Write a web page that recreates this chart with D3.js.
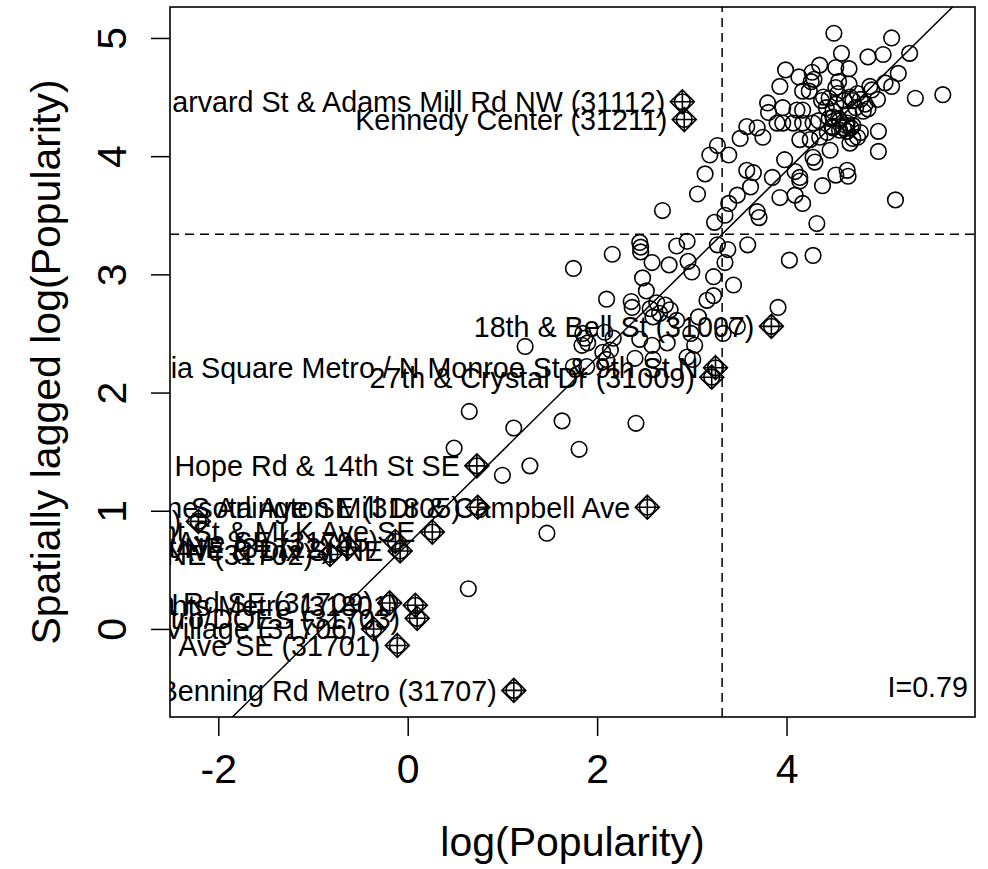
<!DOCTYPE html>
<html>
<head>
<meta charset="utf-8">
<script src="https://cdn.jsdelivr.net/npm/d3@7"></script>
<style>
  body { margin: 0; background: #fff; }
  text { font-family: "Liberation Sans", Arial, Helvetica, sans-serif; fill: #000; }
</style>
</head>
<body>
<div id="chartDiv"></div>
<script>
// log(Popularity) of each station and its spatially lagged value
var popX = [0.64,1.47,1.00,1.29,0.49,1.81,0.65,1.12,1.63,2.41,
  1.24,1.75,1.89,1.85,1.87,1.90,1.84,2.08,2.17,2.14,2.06,2.10,2.45,2.58,2.74,3.03,2.40,2.59,2.95,3.01,
  2.10,2.36,2.37,2.56,2.63,2.72,2.77,2.66,2.59,2.48,2.52,3.16,3.23,3.07,2.99,3.48,3.33,2.84,3.91,
  1.75,2.16,2.45,2.46,2.46,2.58,2.76,2.84,2.95,2.96,3.00,3.23,3.27,3.24,3.38,3.35,3.44,3.59,4.03,4.28,
  2.69,3.06,3.14,3.19,3.27,3.39,3.51,3.58,3.69,3.75,3.58,3.65,3.62,3.48,3.39,3.35,3.69,3.71,3.85,3.98,
  4.09,4.14,4.14,3.93,4.09,4.17,4.32,4.38,4.52,4.64,4.65,4.97,4.97,5.15,4.28,4.30,4.25,4.14,4.35,4.43,4.70,4.78,
  3.80,3.81,3.96,4.11,4.17,3.90,3.96,4.07,4.17,4.28,3.93,3.99,4.13,4.27,4.35,4.29,4.52,4.66,4.17,4.24,4.26,
  4.50,5.11,4.58,4.86,5.02,5.30,5.18,5.04,5.11,5.36,5.65,4.96,4.88,4.90,4.75,4.67,4.86,4.83,
  4.37,4.45,4.42,4.49,4.52,4.45,4.55,4.52,4.55,4.66,4.61,4.70,4.73,4.63,4.70,4.81,4.75,4.49,4.60,4.68,
  4.34,4.66,4.39,4.54,4.67,4.49,4.56,4.64,4.48,4.56,4.64,4.78,4.46];
var lagY = [0.34,0.81,1.30,1.38,1.53,1.52,1.84,1.70,1.76,1.74,
  2.39,2.22,2.22,2.50,2.46,2.42,2.40,2.51,2.46,2.36,2.34,2.28,2.45,2.40,2.42,2.40,2.29,2.28,2.30,2.28,
  2.79,2.77,2.72,2.71,2.76,2.74,2.70,2.67,2.64,2.97,2.86,2.78,2.82,2.64,2.50,2.56,2.50,2.61,2.72,
  3.05,3.17,3.27,3.23,3.19,3.10,3.08,3.24,3.28,3.11,3.02,2.98,3.25,3.44,3.21,3.10,2.91,3.25,3.12,3.16,
  3.54,3.68,3.85,4.01,4.09,4.01,4.15,4.25,4.24,4.16,3.88,3.86,3.74,3.67,3.60,3.50,3.53,3.48,3.82,3.97,
  3.87,3.82,3.79,3.65,3.67,3.60,3.43,3.75,3.84,3.88,3.83,4.21,4.04,3.63,3.99,3.95,4.14,4.14,4.16,4.20,4.15,4.20,
  4.45,4.37,4.41,4.39,4.39,4.28,4.28,4.28,4.28,4.28,4.59,4.73,4.67,4.71,4.77,4.65,4.75,4.74,4.55,4.55,4.63,
  5.04,5.00,4.87,4.84,4.86,4.87,4.70,4.62,4.59,4.49,4.52,4.48,4.59,4.56,4.16,4.11,4.40,4.44,
  4.47,4.49,4.41,4.38,4.44,4.32,4.32,4.58,4.63,4.61,4.47,4.47,4.41,4.26,4.26,4.38,4.53,4.24,4.24,4.24,
  4.30,4.36,4.50,4.53,4.50,4.33,4.30,4.28,4.25,4.22,4.21,4.48,4.05];

// influential stations (marked and labelled)
var inflLabel = ["Harvard St & Adams Mill Rd NW (31112)", "Kennedy Center (31211)",
  "18th & Bell St (31007)", "Virginia Square Metro / N Monroe St & 9th St N",
  "27th & Crystal Dr (31009)", "Good Hope Rd & 14th St SE", "Minnesota Ave SE (31805)",
  "S Arlington Mill Dr & Campbell Ave", "Southern Ave & Wheeler Rd SE (31710)",
  "Pleasant St & MLK Ave SE", "Nannie Helen Burroughs Ave & 49th St NE (31702)",
  "Division Ave & Foote St NE (31712)", "Randle Circle & Minnesota Ave SE (31705)",
  "Minnesota Ave & Dix St NE", "Alabama Ave & Stanton Rd SE (31709)",
  "Congress Heights Metro (31801)", "Minnesota Ave Metro/DOES (31703)",
  "Fort Dupont Village (31706)", "Anacostia Rd & Ridge Rd Ave SE (31701)",
  "Benning Rd Metro (31707)"];
var inflX = [2.90,2.92,3.84,3.25,3.21,0.73,0.74,2.53,-2.21,0.26,-0.82,-0.63,-0.13,-0.08,-0.19,0.08,0.10,-0.36,-0.11,1.12];
var inflY = [4.46,4.31,2.56,2.21,2.13,1.38,1.03,1.03,0.91,0.82,0.63,0.69,0.74,0.66,0.22,0.20,0.09,0.00,-0.14,-0.52];

var xTicks = [-2, 0, 2, 4];
var yTicks = [0, 1, 2, 3, 4, 5];
var xLimits = [-2.51, 5.99];
var yLimits = [-0.745, 5.262];
var meanX = 3.32, meanY = 3.34;
var moranI = 0.79;

var width = 988, height = 869;
var margin = {left: 170, right: 13, top: 7, bottom: 152};

var svg = d3.select("#chartDiv").append("svg")
    .attr("width", width)
    .attr("height", height);

var x = d3.scaleLinear().domain(xLimits).range([margin.left, width - margin.right]);
var y = d3.scaleLinear().domain(yLimits).range([height - margin.bottom, margin.top]);

// clip to the plot region like R does
svg.append("clipPath").attr("id", "plotClip")
  .append("rect")
    .attr("x", x.range()[0]).attr("y", y.range()[1])
    .attr("width", x.range()[1] - x.range()[0])
    .attr("height", y.range()[0] - y.range()[1]);

var plot = svg.append("g").attr("clip-path", "url(#plotClip)");

// mean lines
plot.append("line")
    .attr("x1", x(meanX)).attr("x2", x(meanX))
    .attr("y1", y.range()[0]).attr("y2", y.range()[1])
    .attr("stroke", "#000").attr("stroke-width", 1.5)
    .attr("stroke-dasharray", "9,6");
plot.append("line")
    .attr("x1", x.range()[0]).attr("x2", x.range()[1])
    .attr("y1", y(meanY)).attr("y2", y(meanY))
    .attr("stroke", "#000").attr("stroke-width", 1.5)
    .attr("stroke-dasharray", "9,6");

// regression line (slope = Moran's I)
var b0 = meanY - moranI * meanX;
plot.append("line")
    .attr("x1", x(xLimits[0])).attr("y1", y(b0 + moranI * xLimits[0]))
    .attr("x2", x(xLimits[1])).attr("y2", y(b0 + moranI * xLimits[1]))
    .attr("stroke", "#000").attr("stroke-width", 1.5);

// all points as open circles
var allX = popX.concat(inflX), allY = lagY.concat(inflY);
plot.append("g").selectAll("circle")
    .data(d3.range(allX.length))
    .enter().append("circle")
    .attr("cx", function (i) { return x(allX[i]); })
    .attr("cy", function (i) { return y(allY[i]); })
    .attr("r", 7.8)
    .attr("fill", "none")
    .attr("stroke", "#000")
    .attr("stroke-width", 1.6);

// influential points: diamond with plus
var s = 12;
plot.append("g").selectAll("path")
    .data(d3.range(inflX.length))
    .enter().append("path")
    .attr("d", function (i) {
        var cx = x(inflX[i]), cy = y(inflY[i]);
        return "M" + cx + "," + (cy - s) + "L" + (cx + s) + "," + cy + "L" + cx + "," + (cy + s) +
            "L" + (cx - s) + "," + cy + "Z" +
            "M" + (cx - s) + "," + cy + "H" + (cx + s) + "M" + cx + "," + (cy - s) + "V" + (cy + s);
    })
    .attr("fill", "none")
    .attr("stroke", "#000")
    .attr("stroke-width", 1.6);

plot.append("g").selectAll("text")
    .data(d3.range(inflX.length))
    .enter().append("text")
    .attr("x", function (i) { return x(inflX[i]) - 17; })
    .attr("y", function (i) { return y(inflY[i]); })
    .attr("dy", "0.36em")
    .attr("text-anchor", "end")
    .style("font-size", "28.7px")
    .text(function (i) { return inflLabel[i]; });

// axes
var xAxis = svg.append("g")
    .attr("transform", "translate(0," + y.range()[0] + ")")
    .call(d3.axisBottom(x).tickValues(xTicks).tickSize(19).tickSizeOuter(0).tickFormat(d3.format("d")));
xAxis.select(".domain").remove();
xAxis.selectAll("line").attr("stroke-width", 1.5);
xAxis.selectAll("text")
    .attr("y", 66).attr("dy", null)
    .style("font-size", "41px")
    .style("font-family", "Liberation Sans, Arial, sans-serif")
    .text(function (d) { return d < 0 ? "-" + Math.abs(d) : d; });

var yAxis = svg.append("g")
    .attr("transform", "translate(" + x.range()[0] + ",0)")
    .call(d3.axisLeft(y).tickValues(yTicks).tickSize(19).tickSizeOuter(0).tickFormat(d3.format("d")));
yAxis.select(".domain").remove();
yAxis.selectAll("line").attr("stroke-width", 1.5);
yAxis.selectAll("text")
    .attr("x", 0).attr("dy", null).attr("y", -44)
    .attr("transform", "rotate(-90)")
    .style("text-anchor", "middle")
    .style("font-size", "41px")
    .style("font-family", "Liberation Sans, Arial, sans-serif");

// box
svg.append("rect")
    .attr("x", x.range()[0]).attr("y", y.range()[1])
    .attr("width", x.range()[1] - x.range()[0])
    .attr("height", y.range()[0] - y.range()[1])
    .attr("fill", "none").attr("stroke", "#000").attr("stroke-width", 1.6);

// axis titles
svg.append("text")
    .attr("x", (x.range()[0] + x.range()[1]) / 2)
    .attr("y", 856)
    .attr("text-anchor", "middle")
    .style("font-size", "41px")
    .text("log(Popularity)");

svg.append("text")
    .attr("transform", "translate(60," + (y.range()[0] + y.range()[1]) / 2 + ") rotate(-90)")
    .attr("text-anchor", "middle")
    .style("font-size", "41px")
    .text("Spatially lagged log(Popularity)");

svg.append("text")
    .attr("x", 968)
    .attr("y", 697)
    .attr("text-anchor", "end")
    .style("font-size", "28.7px")
    .text("I=" + moranI);
</script>
</body>
</html>
